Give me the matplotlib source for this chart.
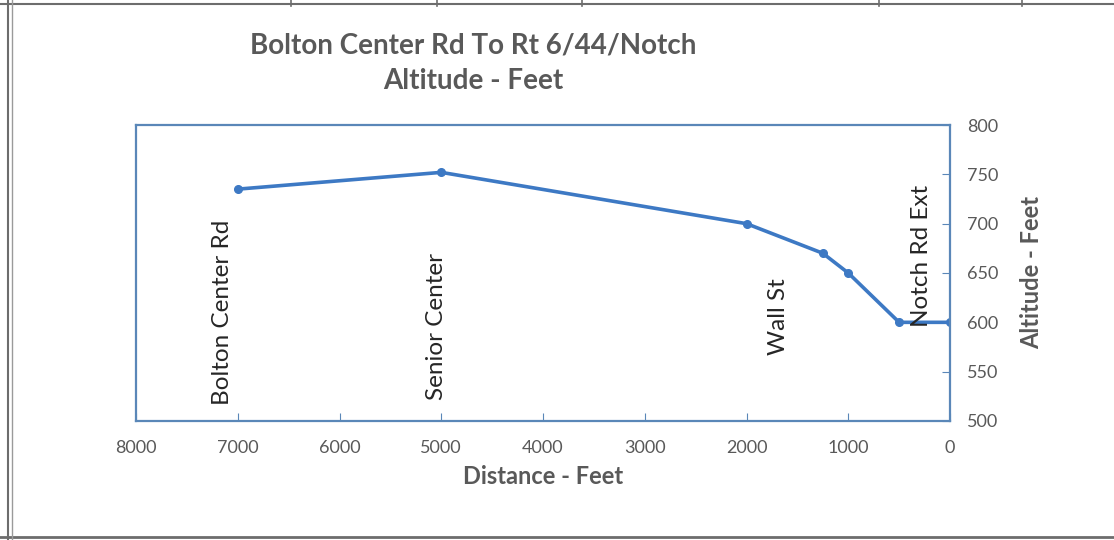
import matplotlib.pyplot as plt
from matplotlib.lines import Line2D

# Elevation profile
distance_ft = [7000, 5000, 2000, 1250, 1000, 500, 0]
altitude_ft = [735, 752, 700, 670, 650, 600, 600]

place_names = ['Bolton Center Rd', 'Senior Center', 'Wall St', 'Notch Rd Ext']
place_dist = [7150, 5050, 1690, 280]
place_alt = [516, 521, 567, 595]

x_ticks = [8000, 7000, 6000, 5000, 4000, 3000, 2000, 1000, 0]
y_ticks = [500, 550, 600, 650, 700, 750, 800]

plt.rcParams['font.family'] = ['Lato', 'DejaVu Sans']
grey = '#595959'
line_blue = '#3d79c4'
axis_blue = '#5a87b8'

fig = plt.figure(figsize=(11.14, 5.40), dpi=100)
ax = fig.add_axes([0.1221, 0.2204, 0.7307, 0.5481])

ax.plot(distance_ft, altitude_ft, color=line_blue, lw=2.6,
        marker='o', ms=5.5, solid_joinstyle='round')

for name, d, a in zip(place_names, place_dist, place_alt):
    ax.text(d, a, name, rotation=90, ha='center', va='bottom',
            fontsize=17.5, color='#262626')

ax.set_xlim(8000, 0)
ax.set_ylim(500, 800)
ax.set_xticks(x_ticks)
ax.set_yticks(y_ticks)
ax.yaxis.tick_right()
ax.yaxis.set_label_position('right')
ax.tick_params(axis='both', direction='in', length=6, color=axis_blue,
               labelcolor=grey, labelsize=13)
ax.tick_params(axis='x', pad=14)
ax.tick_params(axis='y', pad=12)
for s in ax.spines.values():
    s.set_color(axis_blue)
    s.set_linewidth(1.6)

ax.set_xlabel('Distance - Feet', fontsize=17, fontweight='bold', color=grey, labelpad=6)
ax.set_ylabel('Altitude - Feet', fontsize=17, fontweight='bold', color=grey, labelpad=16)

fig.text(0.425, 0.915, 'Bolton Center Rd To Rt 6/44/Notch', ha='center', va='center',
         fontsize=20, fontweight='bold', color=grey)
fig.text(0.425, 0.85, 'Altitude - Feet', ha='center', va='center',
         fontsize=20, fontweight='bold', color=grey)

# spreadsheet cell borders around the pasted chart
frame = '#6d6d6d'
fig.add_artist(Line2D([0, 1], [1 - 4 / 540] * 2, color=frame, lw=1.5))
fig.add_artist(Line2D([0, 1], [1 - 537 / 540] * 2, color=frame, lw=2))
fig.add_artist(Line2D([8 / 1114] * 2, [0, 1], color=frame, lw=1.5))
fig.add_artist(Line2D([12 / 1114] * 2, [0, 1], color='#9a9a9a', lw=1))
for cx in [291, 437, 582, 879, 1022]:
    fig.add_artist(Line2D([cx / 1114] * 2, [1, 1 - 6 / 540], color=frame, lw=1.2))

fig.savefig('out.png', dpi=100)
